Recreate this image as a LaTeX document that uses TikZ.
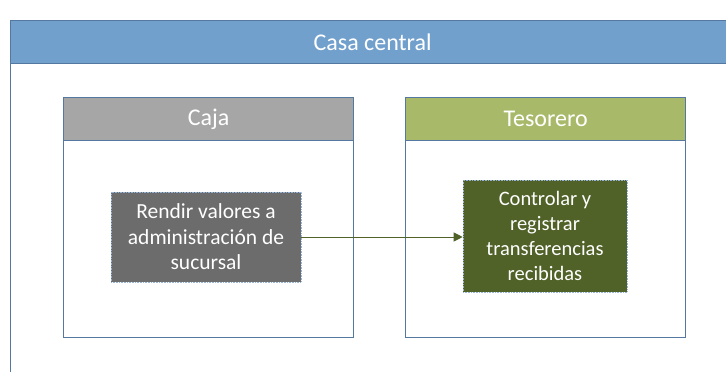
\documentclass[tikz,border=0pt]{standalone}
\usepackage{fontspec}
\setmainfont{Carlito}
\usetikzlibrary{arrows.meta}
\definecolor{hdrblue}{RGB}{114,160,205}
\definecolor{frameblue}{RGB}{84,120,160}
\definecolor{cajagray}{RGB}{166,166,166}
\definecolor{tesgreen}{RGB}{168,186,106}
\definecolor{taskgray}{RGB}{108,108,108}
\definecolor{taskolive}{RGB}{80,98,40}
\definecolor{dotblue}{RGB}{150,180,215}
\tikzset{
  lane/.style={draw=frameblue, line width=1.2pt, fill=white, anchor=north west, inner sep=0pt},
  lanehdr/.style={draw=frameblue, line width=1.2pt, anchor=north west, inner sep=0pt, text=white, font=\fontsize{24}{28}\selectfont},
  task/.style={draw=dotblue, line width=0.6pt, densely dotted, text=white, align=center, inner sep=2pt, font=\fontsize{21.5}{25.5}\selectfont},
  flow/.style={-{Triangle[length=9pt,width=9pt]}, draw=taskolive, line width=1pt}
}
\begin{document}
\begin{tikzpicture}[x=1pt,y=-1pt]
\useasboundingbox (0,0) rectangle (726,372);
\fill[white] (0,0) rectangle (726,372);
\clip (0,0) rectangle (726,372);
\node[lane, minimum width=724pt, minimum height=400pt] (outer) at (10,20) {};
\node[lanehdr, fill=hdrblue, minimum width=724pt, minimum height=43pt] (casa) at (10,20) {Casa central};
\node[lane, minimum width=290pt, minimum height=240pt] (caja) at (63,97) {};
\node[lanehdr, fill=cajagray, minimum width=290pt, minimum height=43pt] (cajahdr) at (63,97) {Caja};
\node[lane, minimum width=280pt, minimum height=240pt] (tes) at (405,97) {};
\node[lanehdr, fill=tesgreen, minimum width=280pt, minimum height=43pt] (teshdr) at (405,97) {Tesorero};
\node[task, fill=taskgray, minimum width=190pt, minimum height=90pt] (rendir) at (206,237) {Rendir valores a\\administración de\\sucursal};
\node[task, fill=taskolive, minimum width=164pt, minimum height=112pt, font=\fontsize{20.5}{25}\selectfont] (controlar) at (545,236) {Controlar y\\registrar\\transferencias\\recibidas};
\draw[flow] (rendir.east) -- (rendir.east -| controlar.west);
\end{tikzpicture}
\end{document}
